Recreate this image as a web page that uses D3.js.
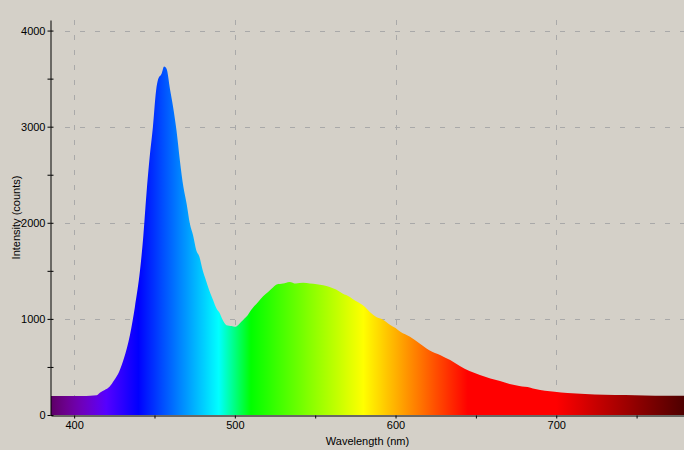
<!DOCTYPE html>
<html>
<head>
<meta charset="utf-8">
<script src="https://cdn.jsdelivr.net/npm/d3@7"></script>
<style>
body{margin:0;background:#d4d0c8;}
svg{display:block;}
text{font-family:"Liberation Sans",Arial,sans-serif;font-size:11px;fill:#000;}
</style>
</head>
<body>
<svg width="684" height="450"></svg>
<script>
// spectrum: wavelength (nm) and intensity (counts)
var wavelengths=[385,395,405,410,414,416,419,422,425,428,431,434.7,437.8,441,443,445,447,449,451,452.3,454.4,456,457.5,459.6,461.6,463.7,465.8,468,470,472,474,476,478,480,482,484,486.5,488.6,490.7,492,494.8,498,500,502,504,506,508,510,512,514.5,517.6,520.7,523,526,530,534,538,542.5,546.7,551,555,559,563,567,571.6,575,578,581,584,588,592,596.5,600,603,609,615,621,628,634,640,646,652.5,659,665,671,677,684,687,693,699,707,718,730,743,755,768,781];
var counts=[197,197,198,200,205,232,260,294,364,450,590,831,1125,1506,1853,2303,2684,2995,3377,3495,3550,3626,3602,3394,3203,2961,2649,2372,2199,1992,1870,1714,1645,1506,1403,1300,1195,1108,1056,1004,935,925,917,935,969,1004,1039,1091,1132,1177,1236,1281,1316,1358,1368,1385,1368,1375,1368,1361,1351,1333,1306,1264,1229,1188,1160,1125,1073,1021,994,940,905,866,814,745,675,623,571,509,457,416,381,353,322,301,284,270,253,242,229,218,211,208,204,201,201];

var yticks=[0,500,1000,1500,2000,2500,3000,3500,4000];
var xticks=[400,450,500,550,600,650,700,750];
var ylabels=[0,1000,2000,3000,4000];
var xlabels=[400,500,600,700];

var data=wavelengths.map((w,i)=>({w:w,c:counts[i]}));

var svg=d3.select("svg");
var pleft=51,pright=684,ptop=20,pbottom=415;

var x=d3.scaleLinear().domain([385.6,779.5]).range([pleft,pright]);
var y=d3.scaleLinear().domain([0,4110]).range([pbottom,ptop]);

// wavelength -> colour
function spectral(w)
{
	var r=0,g=0,b=0;
	if(w<440){r=-(w-440)/60;b=1;}
	else if(w<490){g=(w-440)/50;b=1;}
	else if(w<510){g=1;b=-(w-510)/20;}
	else if(w<580){r=(w-510)/70;g=1;}
	else if(w<645){r=1;g=-(w-645)/65;}
	else{r=1;}
	var f=1;
	if(w<420) f=0.3+0.7*(w-380)/40;
	else if(w>700) f=0.3+0.7*(780-w)/80;
	return d3.rgb(r*f*255,g*f*255,b*f*255).formatHex();
}

var defs=svg.append("defs");
var grad=defs.append("linearGradient")
	.attr("id","spec")
	.attr("gradientUnits","userSpaceOnUse")
	.attr("x1",x(385)).attr("x2",x(780))
	.attr("y1",0).attr("y2",0);
d3.range(385,781,5).forEach(function(w){
	grad.append("stop")
		.attr("offset",(w-385)/395)
		.attr("stop-color",spectral(w));
});
defs.append("clipPath").attr("id","clip")
	.append("rect").attr("x",pleft).attr("y",ptop).attr("width",pright-pleft).attr("height",pbottom-ptop);

// grid
var grid=svg.append("g").attr("stroke","#a9a9a9").attr("stroke-dasharray","5,10");
grid.selectAll(".gx").data(xlabels).enter().append("line")
	.attr("x1",d=>Math.round(x(d))+0.5).attr("x2",d=>Math.round(x(d))+0.5)
	.attr("y1",ptop).attr("y2",pbottom);
grid.selectAll(".gy").data(ylabels.slice(1)).enter().append("line")
	.attr("y1",d=>Math.round(y(d))+0.5).attr("y2",d=>Math.round(y(d))+0.5)
	.attr("x1",pleft+14).attr("x2",pright);

// spectrum
var area=d3.area()
	.x(d=>x(d.w))
	.y0(pbottom)
	.y1(d=>y(d.c))
	.curve(d3.curveMonotoneX);

svg.append("path")
	.datum(data)
	.attr("clip-path","url(#clip)")
	.attr("fill","url(#spec)")
	.attr("d",area);

// axes
var yaxis=d3.axisLeft(y)
	.tickValues(yticks)
	.tickSize(3)
	.tickSizeOuter(0)
	.tickPadding(2)
	.tickFormat(d=>d%1000==0?d:"");
var gy=svg.append("g").attr("transform","translate("+(pleft-0.5)+",0)").call(yaxis);
gy.selectAll(".tick line").attr("x2",-3).clone().attr("x2",3);
gy.selectAll("text").style("font-size","11px").style("font-family","Liberation Sans, Arial, sans-serif");

var xaxis=d3.axisBottom(x)
	.tickValues(xticks)
	.tickSize(3)
	.tickSizeOuter(0)
	.tickPadding(3)
	.tickFormat(d=>d%100==0?d:"");
var gx=svg.append("g").attr("transform","translate(0,"+(pbottom+0.5)+")").call(xaxis);
gx.selectAll("text").style("font-size","11px").style("font-family","Liberation Sans, Arial, sans-serif");
svg.selectAll(".domain").attr("stroke","#000");
svg.selectAll(".tick line").attr("stroke","#000");

svg.append("text")
	.attr("x",(pleft+pright)/2)
	.attr("y",445)
	.style("text-anchor","middle")
	.text("Wavelength (nm)");

svg.append("text")
	.attr("transform","rotate(-90)")
	.attr("x",-(ptop+pbottom)/2)
	.attr("y",20)
	.style("text-anchor","middle")
	.text("Intensity (counts)");
</script>
</body>
</html>
